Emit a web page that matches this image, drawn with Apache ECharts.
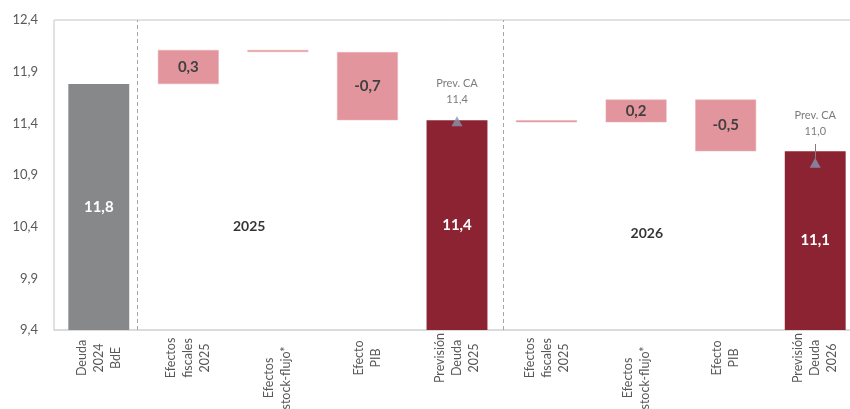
<!DOCTYPE html>
<html>
<head>
<meta charset="utf-8">
<script src="https://cdn.jsdelivr.net/npm/echarts@6/dist/echarts.min.js"></script>
<style>
html,body{margin:0;padding:0;background:#fff;}
#chart{width:850px;height:409px;}
</style>
</head>
<body>
<div id="chart"></div>
<script>
// ---- data ----
const categories = [
  'Deuda\n2024\nBdE',
  'Efectos\nfiscales\n2025',
  'Efectos\nstock-flujo*',
  'Efecto\nPIB',
  'Previsión\nDeuda\n2025',
  'Efectos\nfiscales\n2025',
  'Efectos\nstock-flujo*',
  'Efecto\nPIB',
  'Previsión\nDeuda\n2026'
];
const totals = [11.78, null, null, null, 11.43, null, null, null, 11.13];
const deltas = [null, 0.33, -0.02, -0.66, null, -0.02, 0.22, -0.50, null];
const prevCA = [null, null, null, null, 11.4, null, null, null, 11.0];
const yTicks = [9.4, 9.9, 10.4, 10.9, 11.4, 11.9, 12.4];
const yearNames = ['2025', '2026'];

// ---- helpers ----
const fmt = v => v.toFixed(1).replace('.', ',');
const FONT = 'Lato';
const GRAY = '#87888a', PINK = '#e3959d', RED = '#8b2332';

// waterfall decomposition
let running = 0;
const baseData = [], deltaData = [], totalData = [];
categories.forEach((c, i) => {
  if (totals[i] != null) {
    running = totals[i];
    baseData.push('-');
    deltaData.push('-');
    totalData.push({
      value: totals[i],
      itemStyle: { color: i === 0 ? GRAY : RED }
    });
  } else {
    const start = running, end = running + deltas[i];
    baseData.push(Math.min(start, end));
    deltaData.push({ value: Math.abs(deltas[i]), delta: deltas[i] });
    totalData.push('-');
    running = end;
  }
});

const prevData = prevCA.map((v, i) => {
  if (v == null) return '-';
  return { value: v, label: { distance: i === 4 ? 9 : 18 } };
});

const chart = echarts.init(document.getElementById('chart'));
chart.setOption({
  animation: false,
  backgroundColor: '#fff',
  textStyle: { fontFamily: FONT },
  grid: {
    left: 54, top: 20, right: -10, bottom: 79,
    show: true, borderColor: '#c4c4c4', borderWidth: 1,
    containLabel: false, outerBoundsMode: 'none'
  },
  xAxis: [{
    type: 'category',
    data: categories,
    axisLine: { show: true, lineStyle: { color: '#d9d9d9', width: 1.5 } },
    axisTick: { show: false },
    axisLabel: {
      interval: 0, rotate: 90, margin: 28,
      align: 'center', verticalAlign: 'middle',
      fontFamily: FONT, fontSize: 12.5, lineHeight: 17, color: '#595959',
      formatter: v => v.indexOf('stock-flujo') >= 0
        ? v.split('\n').map(l => l + '{s|}').join('\n')
        : v,
      rich: { s: { width: 40 } }
    },
    splitLine: { show: false }
  }, {
    type: 'value', min: -0.5, max: 8.5, show: false, gridIndex: 0
  }],
  yAxis: {
    type: 'value', min: 9.4, max: 12.4,
    axisLine: { show: false },
    axisTick: { show: false },
    splitLine: { show: false },
    axisLabel: {
      customValues: yTicks,
      formatter: v => fmt(v),
      fontFamily: FONT, fontSize: 13, color: '#595959', margin: 16
    }
  },
  series: [
    {
      type: 'bar', stack: 'w', data: baseData, barWidth: '68%',
      itemStyle: { color: 'transparent' }, silent: true
    },
    {
      type: 'bar', stack: 'w', data: deltaData, barWidth: '68%',
      itemStyle: { color: PINK, borderColor: '#eab0b6', borderWidth: 0.5 },
      label: {
        show: true, position: 'inside',
        fontFamily: FONT, fontSize: 15, fontWeight: 'bold', color: '#404040',
        formatter: p => (p.data && Math.abs(p.data.delta) >= 0.05) ? fmt(p.data.delta) : ''
      }
    },
    {
      type: 'bar', stack: 'w', data: totalData, barWidth: '68%',
      label: {
        show: true, position: 'inside',
        fontFamily: FONT, fontSize: 15, fontWeight: 'bold', color: '#ffffff',
        formatter: p => fmt(p.value)
      }
    },
    {
      type: 'scatter', data: prevData, symbol: 'triangle',
      symbolSize: [11, 10], symbolOffset: [0, -2],
      itemStyle: { color: '#8496b0' },
      label: {
        show: true, position: 'top',
        fontFamily: FONT, fontSize: 11, lineHeight: 16, color: '#595959',
        formatter: p => 'Prev. CA\n' + fmt(p.value)
      },
      markLine: {
        silent: true, symbol: 'none',
        lineStyle: { color: '#7f7f7f', width: 1, type: 'solid' },
        label: { show: false },
        data: [[{ coord: [8, 11.06] }, { coord: [8, 11.2] }]]
      },
      z: 5
    },
    {
      type: 'scatter', xAxisIndex: 1, symbolSize: 0,
      data: [
        { name: yearNames[0], value: [1.68, 10.40] },
        { name: yearNames[1], value: [6.12, 10.33] }
      ],
      label: {
        show: true, position: 'inside', formatter: '{b}',
        fontFamily: FONT, fontSize: 14, fontWeight: 'bold', color: '#000'
      },
      markLine: {
        silent: true, symbol: 'none',
        lineStyle: { color: '#a6a6a6', width: 1, type: [4, 3] },
        label: { show: false },
        data: [{ xAxis: 0.43 }, { xAxis: 4.52 }]
      }
    }
  ]
});
</script>
</body>
</html>
